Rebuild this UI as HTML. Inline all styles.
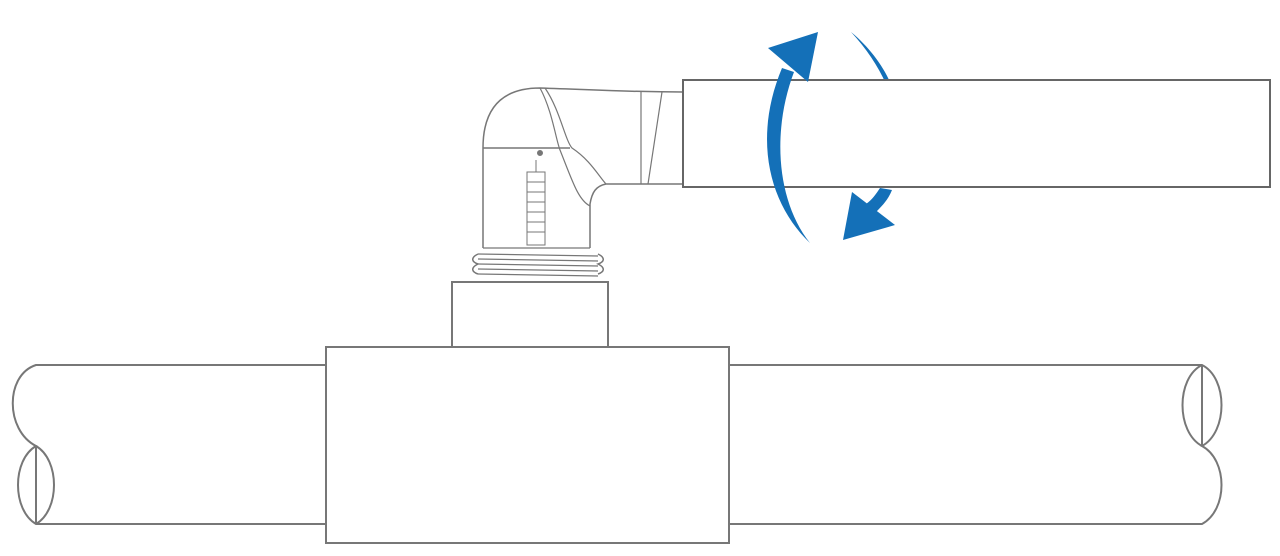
<!DOCTYPE html>
<html><head><style>body{margin:0;background:#fff}svg{display:block}</style></head><body>
<svg width="1280" height="556" viewBox="0 0 1280 556" xmlns="http://www.w3.org/2000/svg">
<g fill="none" stroke="#777" stroke-width="2">
<path d="M326 365 H36 C5 375 5 430 36 446 C12 460 12 510 36 524 H326"/>
<path d="M36 446 C60 460 60 510 36 524 M36 446 V524"/>
<path d="M729 365 H1202 C1228 378 1228 432 1202 446 C1228 460 1228 510 1202 524 H729"/>
<path d="M1202 365 C1176 378 1176 432 1202 446 M1202 365 V446"/>
<rect x="326" y="347" width="403" height="196" fill="#fff"/>
<rect x="452" y="282" width="156" height="65" fill="#fff"/>
<path d="M478 254 C470 258 472 262 478 264 C470 268 472 272 478 274 M598 254 C606 258 604 262 598 264 C606 268 604 272 598 274" stroke-width="1.5"/>
<path d="M478 254 L598 256 M478 264 L598 266 M478 274 L598 276 M478 259 L598 261 M478 269 L598 271" stroke-width="1.2"/>
<path d="M483 248 V148 C483 110 500 88 540 88 C600 90 630 92 683 92" stroke-width="1.5"/>
<path d="M483 148 H570" stroke-width="1.5"/>
<path d="M590 248 V204 C592 192 596 186 606 184 H683" stroke-width="1.5"/>
<path d="M483 248 H590" stroke-width="1.2"/>
<path d="M545 88 C560 110 565 140 572 148 C590 160 598 175 606 184" stroke-width="1.2"/>
<path d="M540 88 C552 110 556 140 560 150 C572 180 578 200 590 206" stroke-width="1.2"/>
<path d="M641 92 V184 M662 92 L648 184 M683 92 V184" stroke-width="1.2"/>
<path d="M527 172 H545 V245 H527 Z M527 182 H545 M527 192 H545 M527 202 H545 M527 212 H545 M527 222 H545 M527 232 H545 M536 160 V172" stroke-width="1"/>
<circle cx="540" cy="153" r="2" fill="#777"/>
</g>
<!-- right arc top (behind pipe) -->
<path d="M851 32 C868 46 882 64 890 82 L886 84 C878 66 866 48 851 32 Z" fill="#1470b8"/>
<rect x="683" y="80" width="587" height="107" fill="#fff" stroke="#666" stroke-width="2"/>
<g fill="#1470b8">
<path d="M810 243 C770 205 752 140 782 68 L794 72 C772 130 776 200 810 243 Z"/>
<path d="M768 48 L818 32 L808 82 Z"/>
<path d="M880 188 L892 190 C888 200 882 206 876 212 L866 204 C872 200 876 194 880 188 Z"/>
<path d="M843 240 L895 225 L852 192 Z"/>
</g>
</svg>
</body></html>
